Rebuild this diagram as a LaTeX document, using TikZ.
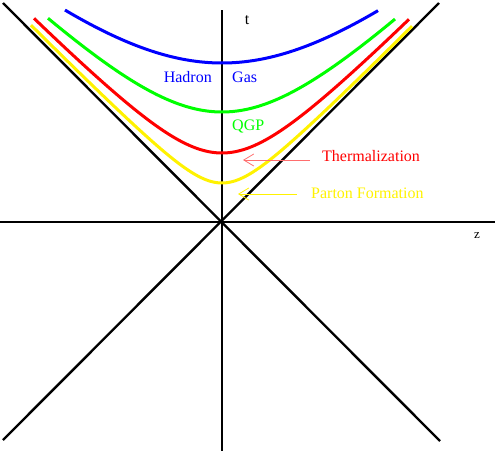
\documentclass[tikz,border=0pt]{standalone}
\usepackage{fontspec}
\setmainfont{Liberation Serif}
\usetikzlibrary{arrows.meta}
\definecolor{pinkred}{RGB}{255,110,110}

\begin{document}
\begin{tikzpicture}[x=1pt,y=1pt,
  axis/.style={line width=2.4pt},
  hyp/.style={line width=3pt,smooth},
  lab/.style={font=\fontsize{16}{19}\selectfont,inner sep=0pt},
  pointer/.style={line width=0.8pt,-{Straight Barb[length=10pt,width=12pt]}}]
\useasboundingbox (-222,-229) rectangle (276,222);
% axes and light cone
\draw [axis] (-222,0) -- (273,0);
\draw [axis] (0,212) -- (0,-229);
\draw [axis] (-219,219) -- (218,-219);
\draw [axis] (217,219) -- (-219,-218);
% hyperbolae t^2 - z^2 = tau^2
\draw [hyp,blue] plot[domain=-157:156,samples=80] (\x,{100*sqrt(1.59^2+(0.00893*\x)^2)});
\draw [hyp,green] plot[domain=-174:173,samples=80] (\x,{100*sqrt(1.10^2+(0.00985*\x)^2)});
\draw [hyp,red] plot[domain=-188:187,samples=80] (\x,{100*sqrt(0.69^2+(0.0102*\x)^2)});
\draw [hyp,yellow] plot[domain=-191:190,samples=80] (\x,{100*sqrt(0.39^2+(0.0101*\x)^2)});
% labels
\node [lab,anchor=base] (t) at (25,198) {t};
\node [lab,anchor=base,font=\fontsize{13}{15}\selectfont] (z) at (255,-16) {z};
\node [lab,anchor=base east,blue] (hadron) at (-10,140) {Hadron};
\node [lab,anchor=base west,blue] (gas) at (10,140) {Gas};
\node [lab,anchor=base west,green] (qgp) at (10,92) {QGP};
\node [lab,anchor=base west,red] (therm) at (100,61) {Thermalization};
\node [lab,anchor=base west,yellow] (parton) at (89,24) {Parton Formation};
% pointers
\coordinate (thermtip) at (21,62);
\coordinate (partontip) at (16,28);
\draw [pointer,pinkred] ([xshift=-12pt,yshift=1pt]therm.base west) -- (thermtip);
\draw [pointer,yellow] ([xshift=-14pt,yshift=4pt]parton.base west) -- (partontip);
\end{tikzpicture}
\end{document}
